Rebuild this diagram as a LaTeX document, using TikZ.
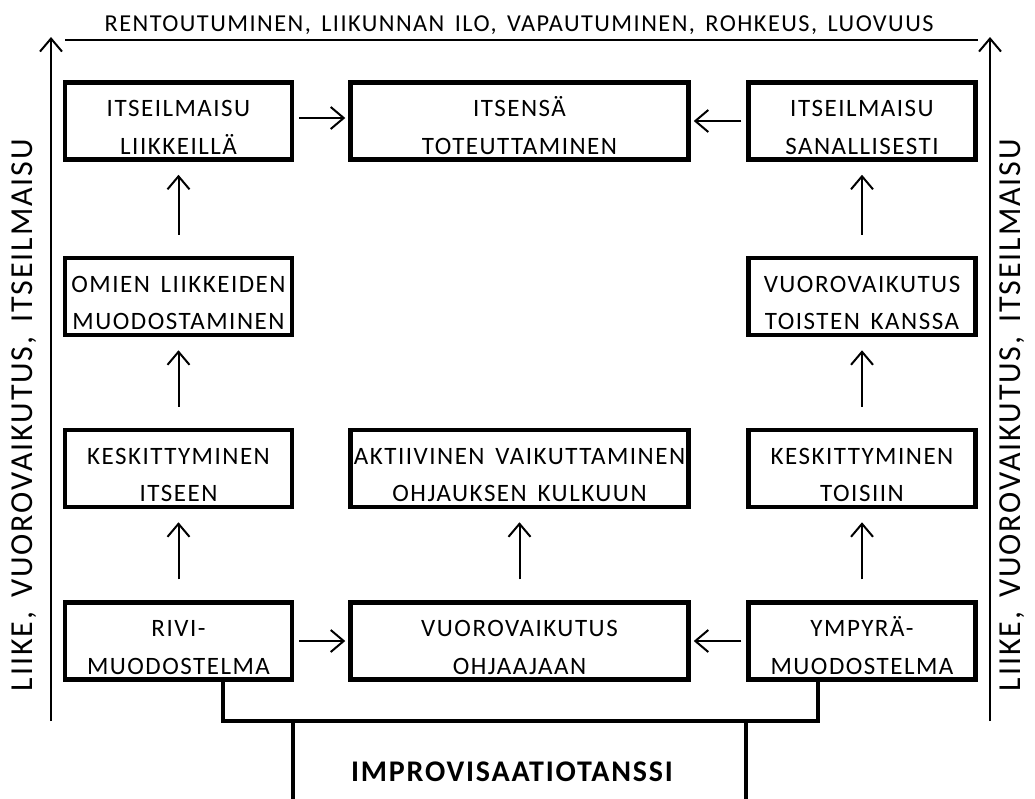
\documentclass[tikz,border=0pt]{standalone}
\usepackage{fontspec}
\setmainfont{Carlito}[LetterSpace=6, WordSpace=1.5]
\usetikzlibrary{arrows.meta}
\tikzset{
  box/.style={draw, line width=4.5pt, inner sep=0pt, align=center, minimum height=77pt,
    text height=66pt, text depth=0pt, font=\fontsize{25}{37.5}\selectfont},
  lbox/.style={box, minimum width=227pt},
  mbox/.style={box, minimum width=338pt},
  arr/.style={line width=2pt, -{Straight Barb[length=13pt,width=22pt,line width=2pt]}},
  thin/.style={line width=2pt},
  thick/.style={line width=4.5pt},
  side/.style={font=\fontsize{32}{34}\selectfont, rotate=90},
}
\begin{document}
\begin{tikzpicture}[x=1pt,y=-1pt]
\useasboundingbox (0,0) rectangle (1035,798);
% boxes
\node[lbox] (a1) at (178.5,121) {ITSEILMAISU\\LIIKKEILLÄ};
\node[mbox] (m1) at (519.5,121) {ITSENSÄ\\TOTEUTTAMINEN};
\node[lbox] (c1) at (862,121) {ITSEILMAISU\\SANALLISESTI};
\node[lbox] (a2) at (178.5,296.5) {OMIEN LIIKKEIDEN\\MUODOSTAMINEN};
\node[lbox] (c2) at (862,296.5) {VUOROVAIKUTUS\\TOISTEN KANSSA};
\node[lbox] (a3) at (178.5,468.5) {KESKITTYMINEN\\ITSEEN};
\node[mbox] (m3) at (519.5,468.5) {AKTIIVINEN VAIKUTTAMINEN\\OHJAUKSEN KULKUUN};
\node[lbox] (c3) at (862,468.5) {KESKITTYMINEN\\TOISIIN};
\node[lbox] (a4) at (178.5,641) {RIVI-\\MUODOSTELMA};
\node[mbox] (m4) at (519.5,641) {VUOROVAIKUTUS\\OHJAAJAAN};
\node[lbox] (c4) at (862,641) {YMPYRÄ-\\MUODOSTELMA};
% vertical arrows
\foreach \u/\v in {a4/a3,a3/a2,a2/a1,c4/c3,c3/c2,c2/c1,m4/m3}
  \draw[arr, shorten <=21pt, shorten >=13pt] (\u.north) -- (\v.south);
% horizontal arrows
\draw[arr, shorten <=5pt, shorten >=3pt] ([yshift=3pt]a1.east) -- ([yshift=3pt]m1.west);
\draw[arr, shorten <=5pt, shorten >=3pt] (c1.west) -- (m1.east);
\draw[arr, shorten <=5pt, shorten >=3pt] (a4.east) -- (m4.west);
\draw[arr, shorten <=5pt, shorten >=3pt] (c4.west) -- (m4.east);
% side frame
\coordinate (lb) at (51,721);
\coordinate (lt) at (51,37);
\coordinate (rb) at (990,721);
\coordinate (rt) at (990,37);
\coordinate (tl) at (65,40);
\coordinate (tr) at (978,40);
\draw[arr] (lb) -- (lt);
\draw[arr] (rb) -- (rt);
\draw[thin] (tl) -- (tr);
\node[font=\fontsize{24.3}{26}\selectfont] (top) at (519,25) {RENTOUTUMINEN, LIIKUNNAN ILO, VAPAUTUMINEN, ROHKEUS, LUOVUUS};
\node[side] (ls) at (24,415) {LIIKE, VUOROVAIKUTUS, ITSEILMAISU};
\node[side] (rs) at (1012,415) {LIIKE, VUOROVAIKUTUS, ITSEILMAISU};
% bottom bracket
\coordinate (bl) at (223,721);
\coordinate (br) at (818,721);
\coordinate (sl) at (293,721);
\coordinate (sr) at (746,721);
\coordinate (el) at (293,800);
\coordinate (er) at (746,800);
\draw[thick] (a4.south -| bl) -- (bl) -- (br) -- (c4.south -| br);
\draw[thick] (sl) -- (el);
\draw[thick] (sr) -- (er);
\node[font=\bfseries\fontsize{30}{32}\selectfont] (imp) at (512,772) {IMPROVISAATIOTANSSI};
\end{tikzpicture}
\end{document}
